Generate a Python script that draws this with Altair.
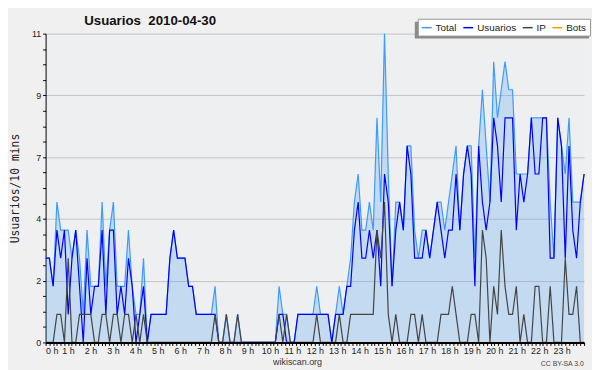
import altair as alt
import pandas as pd

# ---- data (10-minute slots, 2010-04-30) ----
series_names = ["Total", "Usuarios", "IP", "Bots"]
series_colors = ["#3d9bff", "#0000ff", "#444444", "#ff9900"]

usuarios = [3, 3, 2, 4, 3, 4, 1, 3, 4, 2, 0, 3, 1, 2, 2, 4, 1, 4, 4, 1, 2, 1, 3, 2,
            0, 1, 2, 0, 1, 1, 1, 1, 1, 3, 4, 3, 3, 3, 2, 2, 1, 1, 1, 1, 1, 1, 0, 0,
            0, 0, 0, 0, 0, 0, 0, 0, 0, 0, 0, 0, 0, 0, 1, 1, 0, 0, 0, 1, 1, 1, 1, 1,
            1, 1, 1, 1, 0, 1, 1, 1, 2, 2, 4, 5, 3, 3, 4, 3, 4, 2, 6, 5, 2, 4, 5, 4,
            7, 6, 3, 3, 3, 4, 3, 4, 5, 4, 3, 4, 4, 6, 4, 6, 7, 6, 2, 7, 5, 4, 5, 8,
            7, 5, 8, 8, 8, 4, 6, 5, 6, 8, 6, 6, 8, 8, 3, 3, 8, 7, 3, 7, 4, 3, 5, 6]

ip = [0, 0, 0, 1, 1, 0, 3, 0, 0, 1, 1, 1, 1, 0, 0, 1, 1, 0, 1, 1, 0, 1, 1, 0,
      1, 0, 1, 0, 0, 0, 0, 0, 0, 0, 0, 0, 0, 0, 0, 0, 0, 0, 0, 0, 0, 1, 0, 0,
      1, 0, 0, 1, 0, 0, 0, 0, 0, 0, 0, 0, 0, 0, 1, 0, 1, 0, 0, 0, 0, 0, 0, 0,
      1, 0, 0, 0, 0, 0, 1, 0, 0, 1, 1, 1, 1, 1, 1, 1, 4, 3, 5, 1, 0, 1, 0, 0,
      0, 1, 1, 0, 1, 0, 0, 0, 0, 1, 1, 1, 2, 1, 0, 0, 0, 1, 1, 0, 4, 3, 0, 2,
      1, 4, 2, 1, 1, 2, 0, 1, 0, 0, 2, 2, 0, 0, 2, 0, 0, 0, 3, 1, 1, 2, 0, 0]

total = [3, 3, 2, 5, 4, 4, 4, 3, 4, 3, 1, 4, 2, 2, 2, 5, 2, 4, 5, 2, 2, 2, 4, 2,
         1, 1, 3, 0, 1, 1, 1, 1, 1, 3, 4, 3, 3, 3, 2, 2, 1, 1, 1, 1, 1, 2, 0, 0,
         1, 0, 0, 1, 0, 0, 0, 0, 0, 0, 0, 0, 0, 0, 2, 1, 1, 0, 0, 1, 1, 1, 1, 1,
         2, 1, 1, 1, 0, 1, 2, 1, 2, 3, 5, 6, 4, 4, 5, 4, 8, 5, 11, 6, 2, 5, 5, 4,
         7, 7, 4, 3, 4, 4, 3, 4, 5, 5, 4, 5, 6, 7, 4, 6, 7, 7, 3, 7, 9, 7, 5, 10,
         8, 9, 10, 9, 9, 6, 6, 6, 6, 8, 8, 8, 8, 8, 5, 3, 8, 7, 6, 8, 5, 5, 5, 6]

bots = [0] * len(total)

title_text = "Usuarios\u00a0 2010-04-30"
footer_site = "wikiscan.org"
footer_license = "CC BY-SA 3.0"

rows = []
for name, vals in zip(series_names, [total, usuarios, ip, bots]):
    n = len(vals)
    for k, v in enumerate(vals):
        rows.append({"t": k * 24 / (n - 1), "serie": name, "v": v})
df = pd.DataFrame(rows)

FONT = "Liberation Sans, Arial, sans-serif"
MONO = "DejaVu Sans Mono, monospace"

x_ticks = [round(m / 6, 5) for m in range(0, 145)]
y_ticks = [round(i * 0.55, 3) for i in range(0, 21)]
major_test = "abs(datum.value/2.2 - round(datum.value/2.2)) < 0.01"

x_enc = alt.X(
    "t:Q",
    scale=alt.Scale(domain=[0, 24], nice=False, zero=False),
    axis=alt.Axis(
        values=x_ticks,
        labelExpr="(abs(datum.value - round(datum.value)) < 0.001 && datum.value < 23.5) ? round(datum.value) + ' h' : ''",
        labelOverlap=False,
        labelFont=FONT, labelFontSize=9, labelColor="#222",
        labelPadding=1,
        tickSize=3, tickColor="#000", domainColor="#000", domainWidth=2,
        grid=False, zindex=1,
        title=footer_site, titleFont=FONT, titleFontSize=9,
        titleFontWeight="normal", titleColor="#333",
        titleX=254, titleY=19, titleBaseline="middle",
        titleAlign="center",
    ),
)

y_enc = alt.Y(
    "v:Q",
    scale=alt.Scale(domain=[0, 11], nice=False),
    axis=alt.Axis(
        values=y_ticks,
        labelExpr=major_test + " ? format(round(datum.value), 'd') : ''",
        labelOverlap=False,
        labelFont=FONT, labelFontSize=9, labelColor="#222",
        labelPadding=2,
        tickSize=3, tickColor="#000", domainColor="#000",
        grid=True,
        gridColor={"condition": {"test": major_test + " && datum.value > 0", "value": "#c4c4c4"},
                   "value": "rgba(0,0,0,0)"},
        title="Usuarios/10 mins", titleFont=MONO, titleFontSize=11.5,
        titleFontWeight="normal", titleColor="#222",
        titleAngle=270, titleX=-30, titleY=156, titleAlign="center",
        titleBaseline="middle",
    ),
)

color_enc = alt.Color(
    "serie:N",
    scale=alt.Scale(domain=series_names, range=series_colors),
    legend=alt.Legend(
        orient="none", legendX=376, legendY=-15, direction="horizontal",
        gridAlign="none", title=None, symbolType="stroke", symbolStrokeWidth=1.5,
        symbolSize=100, labelFont=FONT, labelFontSize=10, labelColor="#222",
        fillColor="white", strokeColor="#999", padding=3, columnPadding=3,
        labelOffset=3, symbolOffset=0,
    ),
)

area = alt.Chart(df[df.serie == "Total"]).mark_area(
    color="#5aa5f0", opacity=0.28
).encode(x=x_enc, y=y_enc)

lines = [
    alt.Chart(df[df.serie == s]).mark_line(strokeWidth=1.2 if s != "Bots" else 1.0).encode(
        x=x_enc, y=y_enc, color=color_enc
    )
    for s in series_names
]

# drop shadow behind the legend box (decoration)
shadow = alt.Chart(pd.DataFrame({"d": [0]})).mark_rect(color="#8a8a8a").encode(
    x=alt.value(373), x2=alt.value(549), y=alt.value(-12), y2=alt.value(5)
)

title_mark = alt.Chart(pd.DataFrame({"txt": [title_text]})).mark_text(
    font=FONT, fontSize=13.4, fontWeight="bold", color="#111",
    align="left", baseline="alphabetic"
).encode(text="txt:N", x=alt.value(39), y=alt.value(-9))

cc = alt.Chart(pd.DataFrame({"txt": [footer_license]})).mark_text(
    font=FONT, fontSize=7, color="#444", align="center", baseline="middle"
).encode(text="txt:N", x=alt.value(522), y=alt.value(334))

chart = alt.layer(area, *lines, shadow, title_mark, cc).properties(
    width=544,
    height=312,
    background="#f0f0f0",
    padding={"left": 38, "top": 24, "right": 8, "bottom": 28},
    autosize=alt.AutoSizeParams(type="none"),
).configure_view(fill="#eeeff0", stroke=None)

chart.save("out.html", embed_options={"renderer": "svg", "actions": False})
